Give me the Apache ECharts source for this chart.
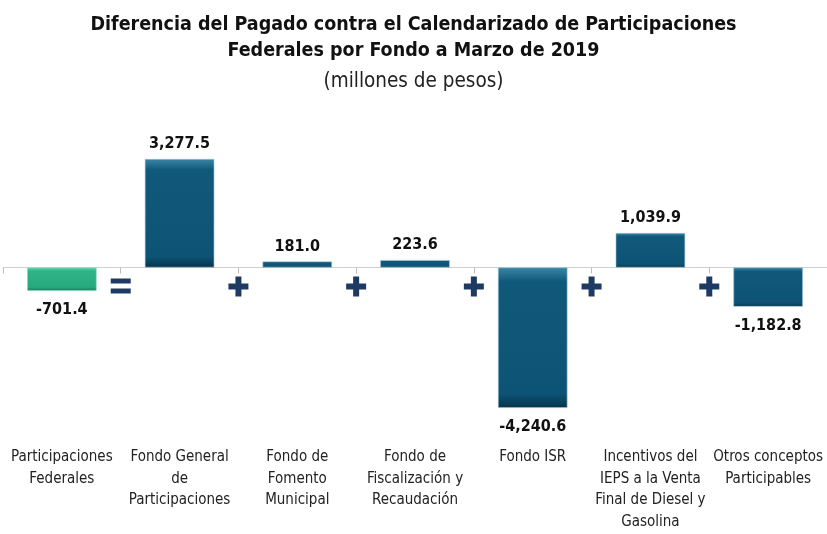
<!DOCTYPE html>
<html>
<head>
<meta charset="utf-8">
<script src="https://cdn.jsdelivr.net/npm/echarts@6/dist/echarts.min.js"></script>
<style>
html,body{margin:0;padding:0;background:#fff;}
#main{width:827px;height:534px;}
</style>
</head>
<body>
<div id="main"></div>
<script>
const categories = [
  'Participaciones\nFederales',
  'Fondo General\nde\nParticipaciones',
  'Fondo de\nFomento\nMunicipal',
  'Fondo de\nFiscalización y\nRecaudación',
  'Fondo ISR',
  'Incentivos del\nIEPS a la Venta\nFinal de Diesel y\nGasolina',
  'Otros conceptos\nParticipables'
];
const values = [-701.4, 3277.5, 181.0, 223.6, -4240.6, 1039.9, -1182.8];
const operators = ['=', '+', '+', '+', '+', '+'];

const FONT = '"Liberation Sans Narrow", "DejaVu Sans Condensed", sans-serif';
const blueGrad = new echarts.graphic.LinearGradient(0,0,0,1,[
  {offset:0, color:'#3a86a6'},
  {offset:0.1, color:'#11597a'},
  {offset:0.9, color:'#0d5375'},
  {offset:1, color:'#06344a'}
]);
const greenGrad = new echarts.graphic.LinearGradient(0,0,0,1,[
  {offset:0, color:'#5fd6ad'},
  {offset:0.15, color:'#2fb487'},
  {offset:0.85, color:'#27a97e'},
  {offset:1, color:'#157a59'}
]);

const chart = echarts.init(document.getElementById('main'), null, {renderer:'canvas'});
const grid = {left:3, right:0, top:118.5, bottom:117.5, containLabel:false, outerBoundsMode:'none'};

chart.setOption({
  animation:false,
  title:{
    text:'Diferencia del Pagado contra el Calendarizado de Participaciones\nFederales por Fondo a Marzo de 2019',
    subtext:'(millones de pesos)',
    left:'center', top:7, itemGap:5,
    textStyle:{fontFamily:FONT, fontSize:19.5, fontWeight:'bold', color:'#111', lineHeight:26},
    subtextStyle:{fontFamily:FONT, fontSize:20.5, color:'#222', lineHeight:26}
  },
  grid:grid,
  xAxis:[{
    type:'category', data:categories,
    axisLine:{onZero:true, lineStyle:{color:'#d0d0d0', width:1}},
    axisTick:{show:true, length:6, lineStyle:{color:'#bdbdbd'}},
    axisLabel:{show:false}
  },{
    type:'category', data:categories, position:'bottom',
    axisLine:{show:false, onZero:false}, axisTick:{show:false},
    axisLabel:{margin:30, interval:0, fontFamily:FONT, fontSize:15, color:'#222', lineHeight:21.5, verticalAlign:'top'}
  }],
  yAxis:{type:'value', min:-4500, max:4500, show:false, splitLine:{show:false}},
  series:[{
    type:'bar', barWidth:'59%', xAxisIndex:0,
    data: values.map((v,i)=>({
      value:v,
      itemStyle:{color: i===0 ? greenGrad : blueGrad, borderColor: i===0 ? '#8fdcc0' : '#9cc3d6', borderWidth:0.6},
      label:{position: v<0 ? 'bottom' : 'top', distance: v<0 ? 11 : 7}
    })),
    label:{show:true, fontFamily:FONT, fontSize:16, fontWeight:'bold', color:'#111',
      formatter:p=>p.value.toLocaleString('en-US',{minimumFractionDigits:1, maximumFractionDigits:1})}
  }]
});

// operator symbols between categories
const W = 827 - grid.left - grid.right;
const band = W / categories.length;
const zeroY = chart.convertToPixel({yAxisIndex:0}, 0);
const opColor = '#1f3a62';
const els = [];
operators.forEach((op,i)=>{
  const cx = grid.left + band*(i+1);
  const cy = zeroY + 19;
  if (op === '=') {
    els.push({type:'rect', shape:{x:cx-10, y:cy-8, width:20, height:5}, style:{fill:opColor}});
    els.push({type:'rect', shape:{x:cx-10, y:cy+2, width:20, height:5}, style:{fill:opColor}});
  } else {
    els.push({type:'rect', shape:{x:cx-10, y:cy-3, width:20, height:6}, style:{fill:opColor}});
    els.push({type:'rect', shape:{x:cx-3, y:cy-10, width:6, height:20}, style:{fill:opColor}});
  }
});
chart.setOption({graphic:els});
</script>
</body>
</html>
